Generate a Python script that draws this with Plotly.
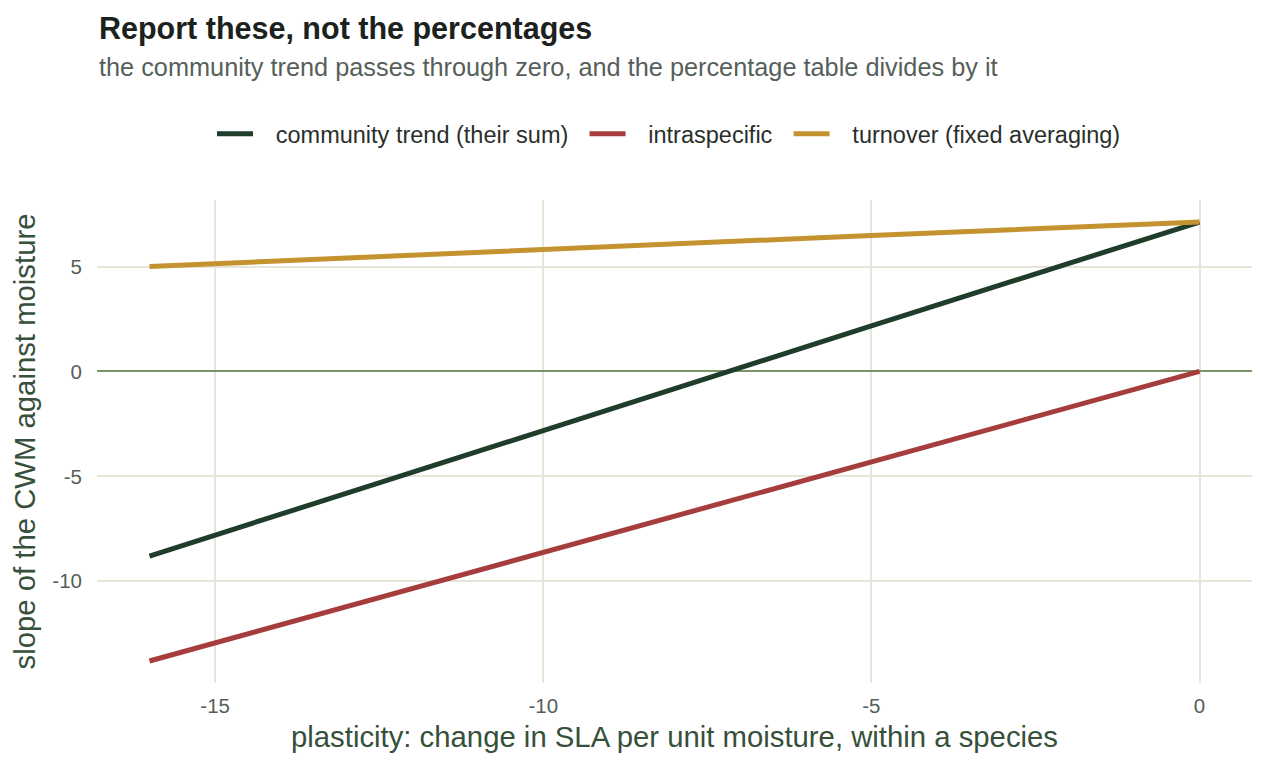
import plotly.graph_objects as go

# data
plasticity = [-16, -10, -5, 0]
community = [-8.8, -2.8, 2.17, 7.12]
intraspecific = [-13.8, -8.62, -4.31, 0.0]
turnover = [5.0, 5.82, 6.48, 7.12]

series_names = ["community trend (their sum)", "intraspecific", "turnover (fixed averaging)"]
series_values = [community, intraspecific, turnover]
series_colors = ["#1f3d2a", "#a63d3d", "#c4922f"]

x_ticks = [-15, -10, -5, 0]
x_tick_labels = ["-15", "-10", "-5", "0"]
y_ticks = [-10, -5, 0, 5]
y_tick_labels = ["-10", "-5", "0", "5"]

FONT = "Liberation Sans, Arial, Helvetica, sans-serif"
NB = "\u00a0"
TH = "\u2009"

fig = go.Figure()
for name, vals, col in zip(series_names, series_values, series_colors):
    fig.add_trace(go.Scatter(x=plasticity, y=vals, mode="lines",
                             name=NB * 2 + TH + name + NB + TH,
                             line=dict(color=col, width=5)))

W, H = 1267, 768
ml, mr, mt, mb = 97, 15, 200, 85
ph = H - mt - mb

def py(pix):
    return (H - mb - pix) / ph

fig.update_layout(
    width=W, height=H,
    margin=dict(l=ml, r=mr, t=mt, b=mb),
    paper_bgcolor="white", plot_bgcolor="white",
    font=dict(family=FONT, color="#4d5a50"),
    showlegend=True,
    legend=dict(orientation="h", x=0.5, xanchor="center", y=py(134), yanchor="middle",
                font=dict(size=23.5, color="#2a2f2b"), itemwidth=36,
                traceorder="normal"),
    xaxis=dict(range=[-16.8, 0.8], tickvals=x_ticks, ticktext=x_tick_labels,
               showgrid=True, gridcolor="#e6e6d8", gridwidth=1.5, zeroline=False,
               showline=False, ticks="", ticklabelstandoff=8,
               tickfont=dict(size=20.5, color="#555f57"),
               title=dict(text="plasticity: change in SLA per unit moisture, within a species",
                          font=dict(size=29.3, color="#36503b"), standoff=10),
               automargin=False),
    yaxis=dict(range=[-14.85, 8.17], tickvals=y_ticks, ticktext=y_tick_labels,
               showgrid=True, gridcolor="#e6e6d8", gridwidth=1.5,
               zeroline=True, zerolinecolor="#7b9467", zerolinewidth=1.6,
               showline=False, ticks="", ticklabelstandoff=14,
               tickfont=dict(size=20.5, color="#555f57"),
               title=dict(text="slope of the CWM against moisture",
                          font=dict(size=29.3, color="#36503b"), standoff=8),
               automargin=False),
    annotations=[
        dict(text="<b>Report these, not the percentages</b>", xref="paper", yref="paper",
             x=0, y=py(28), xanchor="left", yanchor="middle", showarrow=False,
             font=dict(size=30.5, color="#1b211d", family=FONT)),
        dict(text="the community trend passes through zero, and the percentage table divides by it",
             xref="paper", yref="paper", x=0, y=py(67), xanchor="left", yanchor="middle",
             showarrow=False, font=dict(size=25.3, color="#56605a", family=FONT)),
    ],
)

fig.write_html("out.html")
